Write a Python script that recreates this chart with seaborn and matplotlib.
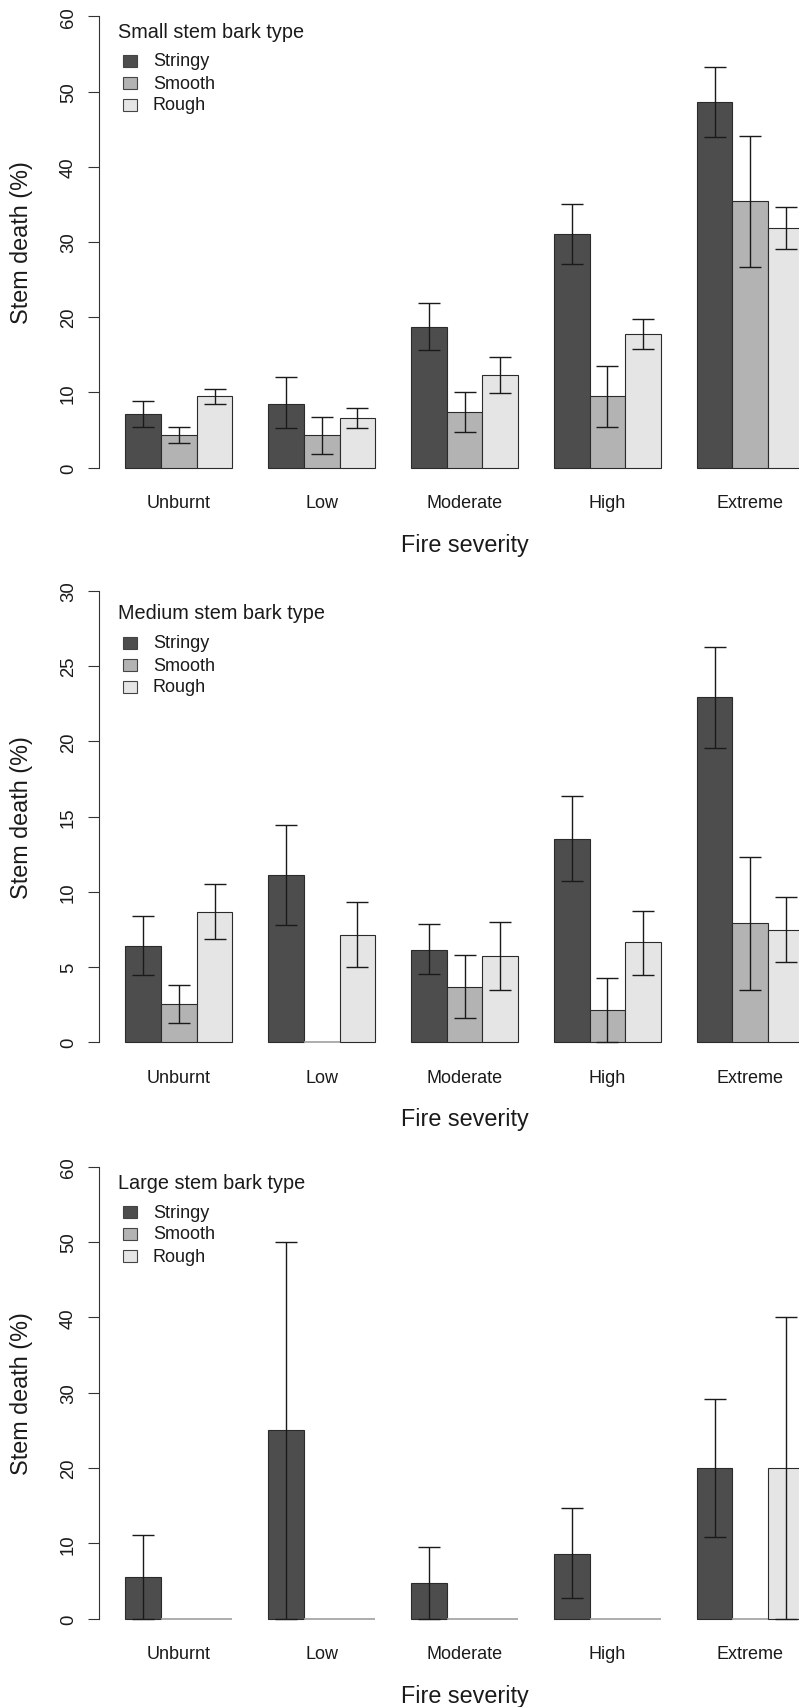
import numpy as np
import pandas as pd
import matplotlib
matplotlib.use("Agg")
import matplotlib.pyplot as plt
import seaborn as sns
from matplotlib.patches import Rectangle
from matplotlib.transforms import offset_copy

sns.set_style("white")
plt.rcParams["font.family"] = ["Liberation Sans", "DejaVu Sans"]

severity = ["Unburnt", "Low", "Moderate", "High", "Extreme"]
bark = ["Stringy", "Smooth", "Rough"]
bark_colors = ["#4d4d4d", "#b3b3b3", "#e5e5e5"]

# ---- Small stems ----
small_stringy = [7.15, 8.5, 18.7, 31.0, 48.6]
small_stringy_lo = [5.4, 5.2, 15.65, 27.0, 44.0]
small_stringy_hi = [8.9, 12.0, 21.85, 35.0, 53.3]
small_smooth = [4.3, 4.3, 7.37, 9.45, 35.4]
small_smooth_lo = [3.25, 1.8, 4.67, 5.4, 26.7]
small_smooth_hi = [5.4, 6.7, 10.07, 13.5, 44.1]
small_rough = [9.45, 6.6, 12.28, 17.7, 31.8]
small_rough_lo = [8.4, 5.3, 9.9, 15.8, 29.1]
small_rough_hi = [10.5, 7.9, 14.67, 19.7, 34.6]

# ---- Medium stems ----
medium_stringy = [6.39, 11.13, 6.16, 13.53, 22.93]
medium_stringy_lo = [4.44, 7.76, 4.52, 10.7, 19.58]
medium_stringy_hi = [8.38, 14.44, 7.85, 16.37, 26.3]
medium_smooth = [2.53, 0.0, 3.70, 2.13, 7.9]
medium_smooth_lo = [1.26, 0.0, 1.62, 0.0, 3.46]
medium_smooth_hi = [3.77, 0.0, 5.83, 4.26, 12.31]
medium_rough = [8.67, 7.14, 5.72, 6.63, 7.47]
medium_rough_lo = [6.85, 4.97, 3.46, 4.46, 5.3]
medium_rough_hi = [10.49, 9.34, 8.0, 8.74, 9.67]

# ---- Large stems ----
large_stringy = [5.54, 25.0, 4.74, 8.63, 20.0]
large_stringy_lo = [0.0, 0.0, 0.0, 2.66, 10.8]
large_stringy_hi = [11.07, 50.0, 9.5, 14.65, 29.1]
large_smooth = [0.0, 0.0, 0.0, 0.0, 0.0]
large_smooth_lo = [0.0, 0.0, 0.0, 0.0, 0.0]
large_smooth_hi = [0.0, 0.0, 0.0, 0.0, 0.0]
large_rough = [0.0, 0.0, 0.0, 0.0, 20.0]
large_rough_lo = [0.0, 0.0, 0.0, 0.0, 0.0]
large_rough_hi = [0.0, 0.0, 0.0, 0.0, 40.0]

panels = [
    dict(title="Small stem bark type", ymax=60, step=10, top=17.3, zero=468.5,
         vals=[small_stringy, small_smooth, small_rough],
         lo=[small_stringy_lo, small_smooth_lo, small_rough_lo],
         hi=[small_stringy_hi, small_smooth_hi, small_rough_hi],
         leg_title=32.0, leg_rows=[62.0, 84.3, 106.0]),
    dict(title="Medium stem bark type", ymax=30, step=5, top=592.0, zero=1043.2,
         vals=[medium_stringy, medium_smooth, medium_rough],
         lo=[medium_stringy_lo, medium_smooth_lo, medium_rough_lo],
         hi=[medium_stringy_hi, medium_smooth_hi, medium_rough_hi],
         leg_title=613.3, leg_rows=[644.0, 666.3, 688.0]),
    dict(title="Large stem bark type", ymax=60, step=10, top=1167.8, zero=1619.5,
         vals=[large_stringy, large_smooth, large_rough],
         lo=[large_stringy_lo, large_smooth_lo, large_rough_lo],
         hi=[large_stringy_hi, large_smooth_hi, large_rough_hi],
         leg_title=1183.3, leg_rows=[1213.3, 1235.0, 1257.3]),
]

W, H = 799, 1708
fig = plt.figure(figsize=(W / 100, H / 100), dpi=100)

# x mapping: pixel = X0 + XS * seaborn_x
X0, XS = 178.9, 142.84
ax_left_px, ax_right_px = 98.7, 900.0
xlo = (ax_left_px - X0) / XS
xhi = (ax_right_px - X0) / XS

def fx(px):
    return px / W

def fy(py):
    return 1 - py / H

for p in panels:
    ymax = p["ymax"]
    ppu = (p["zero"] - p["top"]) / ymax
    ylo, yhi = -0.05 * ymax, 1.01 * ymax
    bot_px = p["zero"] - ylo * ppu
    top_px = p["zero"] - yhi * ppu
    ax = fig.add_axes([fx(ax_left_px), fy(bot_px),
                       (ax_right_px - ax_left_px) / W, (bot_px - top_px) / H])

    rows = []
    for b, v in zip(bark, p["vals"]):
        for s, val in zip(severity, v):
            rows.append(dict(severity=s, bark=b, value=val))
    df = pd.DataFrame(rows)

    sns.barplot(data=df, x="severity", y="value", hue="bark", order=severity,
                hue_order=bark, palette=bark_colors, width=0.75, errorbar=None,
                saturation=1, edgecolor="#2b2b2b", linewidth=0.8, legend=False, ax=ax)

    bar_conts = list(ax.containers)
    for ci, cont in enumerate(bar_conts):
        for j, bar in enumerate(cont):
            v = p["vals"][ci][j]
            if v == 0:
                bar.set_edgecolor("#a0a0a0")
                bar.set_linewidth(1.2)
                continue
            xc = bar.get_x() + bar.get_width() / 2
            lo, hi = p["lo"][ci][j], p["hi"][ci][j]
            ax.errorbar([xc], [v], yerr=[[v - lo], [hi - v]], fmt="none",
                        ecolor="#1a1a1a", elinewidth=1.0, capsize=7.9,
                        capthick=1.0, zorder=5)

    ax.set_xlim(xlo, xhi)
    ax.set_ylim(ylo, yhi)
    for sp in ["top", "right", "bottom"]:
        ax.spines[sp].set_visible(False)
    ax.spines["left"].set_bounds(0, ymax)
    ax.spines["left"].set_color("#333333")
    ax.spines["left"].set_linewidth(0.8)
    ax.set_xticks([])
    ax.set_yticks(np.arange(0, ymax + 0.1, p["step"]))
    ax.set_yticklabels([f"{int(t)}" for t in np.arange(0, ymax + 0.1, p["step"])],
                       rotation=90, va="center", ha="right", fontsize=13.3)
    ax.tick_params(axis="y", left=True, length=7.9, width=0.8, color="#333333",
                   pad=7.7, labelcolor="#1a1a1a")
    ax.set_xlabel("")
    ax.set_ylabel("")

    lab_tr = offset_copy(ax.transData, fig=fig, y=-39.8, units="dots")
    for i, s in enumerate(severity):
        ax.text(i, 0, s, transform=lab_tr, ha="center", va="baseline",
                fontsize=13, color="#1a1a1a", clip_on=False)

    fig.text(fx(465), fy(p["zero"] + 76.7), "Fire severity", ha="center",
             va="center", fontsize=16.8, color="#1a1a1a")
    fig.text(fx(21.7), fy((p["zero"] + p["top"]) / 2), "Stem death (%)",
             rotation=90, ha="center", va="center", fontsize=16.8, color="#1a1a1a")

    # legend
    fig.text(fx(118), fy(p["leg_title"]), p["title"], ha="left", va="center",
             fontsize=14.3, color="#1a1a1a")
    for b, c, ry in zip(bark, bark_colors, p["leg_rows"]):
        fig.add_artist(Rectangle((fx(123), fy(ry + 6)), 14 / W, 12 / H,
                                 transform=fig.transFigure, facecolor=c,
                                 edgecolor="#444444", linewidth=0.8))
        fig.text(fx(153), fy(ry), b, ha="left", va="center", fontsize=13,
                 color="#1a1a1a")

fig.savefig("out.png", dpi=100)
